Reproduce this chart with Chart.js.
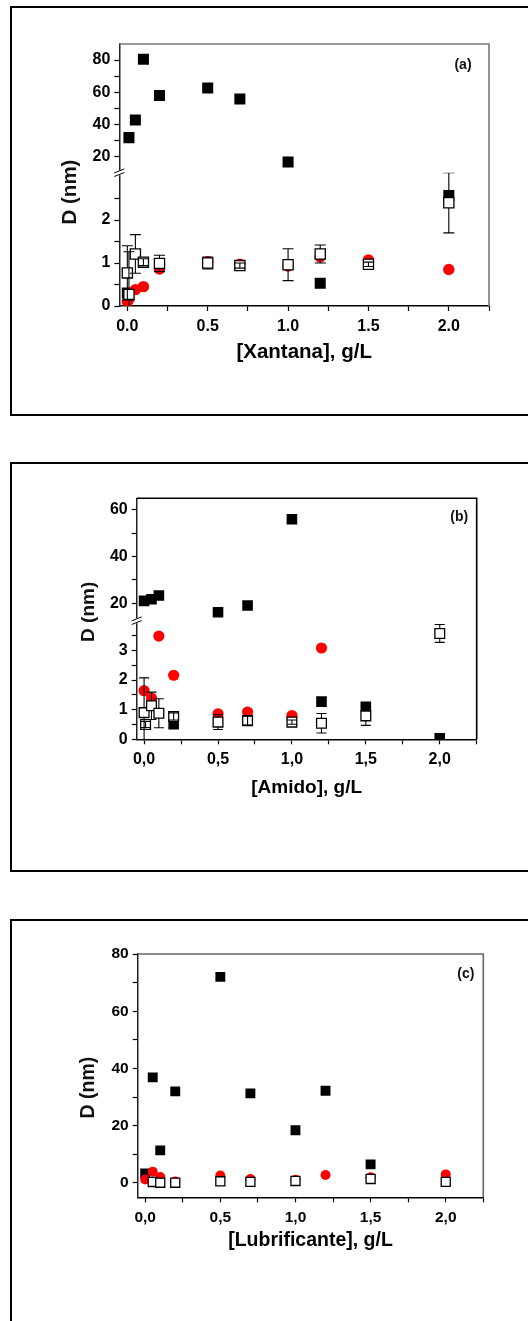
<!DOCTYPE html>
<html>
<head>
<meta charset="utf-8">
<title>D (nm) vs concentração</title>
<script src="https://cdn.jsdelivr.net/npm/chart.js@4.4.0/dist/chart.umd.min.js"></script>
<style>
  html, body { margin: 0; padding: 0; background: #fff; }
  body { width: 528px; height: 1321px; overflow: hidden; position: relative; }
  .frame { position: absolute; left: 10px; width: 560px; border: 2px solid #000; box-sizing: border-box; }
  canvas { position: absolute; left: 0; }
</style>
</head>
<body>
<div class="frame" style="top:6px;height:410px"></div>
<div class="frame" style="top:462px;height:410px"></div>
<div class="frame" style="top:919px;height:440px"></div>
<canvas id="chartA" width="528" height="420" style="top:0"></canvas>
<canvas id="chartB" width="528" height="440" style="top:440px"></canvas>
<canvas id="chartC" width="528" height="431" style="top:890px"></canvas>
<script>
// --- DATA ---
// (a) Xantana
const xA = [0, 0.01, 0.05, 0.1, 0.2, 0.5, 0.7, 1.0, 1.2, 1.5, 2.0];
const blackA = [0.3, 31.8, 42.8, 80.5, 58, 62.7, 55.8, 16.7, 0.53, null, 2.57];
const redA = [0.1, 0.16, 0.38, 0.45, 0.86, 1.03, 0.97, 0.93, 1.14, 1.07, 0.85];
const openA = [0.77, 0.27, 1.21, 1.02, 0.99, 1.0, 0.94, 0.96, 1.21, 0.97, 2.4];
const openErrA = [0.63, 0.99, 0.45, 0.08, 0.19, 0.14, 0.06, 0.37, 0.21, 0.05, 0.7];

// (b) Amido
const xB = [0, 0.01, 0.05, 0.1, 0.2, 0.5, 0.7, 1.0, 1.2, 1.5, 2.0];
const blackB = [21, null, 21.7, 23.3, 0.51, 16.1, 19.0, 56, 1.27, 1.1, 0.03];
const redB = [1.64, null, 1.39, 3.48, 2.16, 0.86, 0.92, 0.8, 3.08, null, null];
const openB = [0.9, 0.5, 1.13, 0.88, 0.77, 0.58, 0.63, 0.58, 0.54, 0.79, 3.57];
const openErrB = [1.17, 0.1, 0.46, 0.49, 0.12, 0.25, 0.15, 0.07, 0.33, 0.32, 0.3];

// (c) Lubrificante
const xC = [0, 0.05, 0.1, 0.2, 0.5, 0.7, 1.0, 1.2, 1.5, 2.0];
const blackC = [3.3, 36.9, 11.4, 32, 72, 31.3, 18.4, 32.2, 6.5, null];
const redC = [1.2, 3.9, 2.1, 0.5, 2.6, 1.4, 1.1, 2.8, 2.0, 3.0];
const openC = [null, 0.35, 0.1, 0.1, 0.6, 0.4, 0.7, null, 1.4, 0.4];
const openErrC = [0, 0, 0, 0, 0, 0, 0, 0, 0, 0];

// tick positions (labels only on the major ones)
const xTicks = [0, 0.25, 0.5, 0.75, 1, 1.25, 1.5, 1.75, 2, 2.25];
const yLowTicksA = [0, 0.5, 1, 1.5, 2, 2.5];
const yHighTicksA = [20, 30, 40, 50, 60, 70, 80];
const yLowTicksB = [0, 0.5, 1, 1.5, 2, 2.5, 3, 3.5];
const yHighTicksB = [20, 30, 40, 50, 60];
const yTicksC = [0, 10, 20, 30, 40, 50, 60, 70, 80];
// --- END DATA ---

const FONT = '"Liberation Sans", Arial, sans-serif';
Chart.defaults.font.family = FONT;
Chart.defaults.color = '#000';

const panels = [
  {
    canvasId: 'chartA', x: xA, black: blackA, red: redA, open: openA, openErr: openErrA,
    breakAt: 5, yLow: [0, 3.1], yLowTicks: yLowTicksA, yLowStep: 1,
    yHigh: [10, 90], yHighTicks: yHighTicksA, yHighStep: 20,
    area: { left: 119.3, top: 44, right: 489, bottom: 306 }, breakY: 172.7,
    decimal: '.', xTitle: '[Xantana], g/L', xTitleSize: 20.5, xTitleOffset: 46, tickSize: 16,
    tag: '(a)', tagPos: [463, 65], yTitlePos: [70.7, 192], yTitleSize: 20.5, frameColor: '#777',
    blackR: 7.8, openR: 7.2, redR: 5.7, capHalf: 5.5
  },
  {
    canvasId: 'chartB', x: xB, black: blackB, red: redB, open: openB, openErr: openErrB,
    breakAt: 5, yLow: [0, 4.0], yLowTicks: yLowTicksB, yLowStep: 1,
    yHigh: [12.5, 65], yHighTicks: yHighTicksB, yHighStep: 20,
    area: { left: 136.7, top: 58.3, right: 476.7, bottom: 299.3 }, breakY: 180.7,
    decimal: ',', xTitle: '[Amido], g/L', xTitleSize: 19, xTitleOffset: 48, tickSize: 16,
    tag: '(b)', tagPos: [459.2, 77], yTitlePos: [88.4, 171.8], yTitleSize: 19, frameColor: '#000',
    blackR: 7.5, openR: 6.9, redR: 5.6, capHalf: 5
  },
  {
    canvasId: 'chartC', x: xC, black: blackC, red: redC, open: openC, openErr: openErrC,
    breakAt: null, y: [-5, 80], yTicks: yTicksC, yStep: 20,
    area: { left: 137.7, top: 64, right: 483.3, bottom: 307.3 },
    decimal: ',', xTitle: '[Lubrificante], g/L', xTitleSize: 19.5, xTitleOffset: 43, tickSize: 15.5,
    tag: '(c)', tagPos: [465.8, 84], yTitlePos: [88.4, 197.6], yTitleSize: 19.5, frameColor: '#666',
    blackR: 7.0, openR: 6.4, redR: 5.0, capHalf: 5
  }
];

// split a series into the part below and above the axis break
function addSeries(datasets, p, ys, errs, style) {
  const low = [], high = [];
  p.x.forEach((x, i) => {
    if (ys[i] === null) return;
    const pt = { x: x, y: ys[i], err: errs ? errs[i] : 0 };
    if (p.breakAt && ys[i] > p.breakAt) high.push(pt); else low.push(pt);
  });
  datasets.push(Object.assign({ data: low, yAxisID: p.breakAt ? 'yLow' : 'y', clip: 0 }, style));
  if (p.breakAt) datasets.push(Object.assign({ data: high, yAxisID: 'yHigh', clip: 0 }, style));
}

function isMultiple(v, step) {
  return Math.abs(v / step - Math.round(v / step)) < 1e-6;
}

function yAxis(p, range, ticks, step, weight, width) {
  const axis = {
    type: 'linear', position: 'left', min: range[0], max: range[1],
    afterBuildTicks: s => { s.ticks = ticks.map(v => ({ value: v })); },
    afterFit: s => { s.width = width; },
    ticks: {
      autoSkip: false, padding: 4, color: '#000',
      font: { family: FONT, size: p.tickSize, weight: 'bold' },
      callback: v => isMultiple(v, step) ? String(v) : ''
    },
    grid: { drawOnChartArea: false, tickLength: 5, tickColor: '#000', tickWidth: 1.2 },
    border: { color: '#222', width: 1.5 }
  };
  if (weight) { axis.stack = 'dnm'; axis.stackWeight = weight; }
  return axis;
}

// error bars for the open squares
const errorBarPlugin = {
  id: 'errorBars',
  afterDatasetsDraw(chart, args, opts) {
    const ctx = chart.ctx;
    const area = chart.chartArea;
    chart.data.datasets.forEach((ds, di) => {
      if (!ds.withErrors) return;
      const meta = chart.getDatasetMeta(di);
      const yScale = chart.scales[meta.yAxisID];
      const half = ds.pointRadius * Math.SQRT1_2;
      ctx.save();
      ctx.beginPath();
      ctx.rect(area.left, yScale.top, area.right - area.left, yScale.bottom - yScale.top);
      ctx.clip();
      ctx.strokeStyle = '#000';
      ctx.lineWidth = 1.1;
      meta.data.forEach((pt, i) => {
        const raw = ds.data[i];
        if (!raw.err) return;
        const yUp = yScale.getPixelForValue(raw.y + raw.err);
        const yDn = yScale.getPixelForValue(raw.y - raw.err);
        ctx.beginPath();
        if (pt.y - yUp > half) {
          ctx.moveTo(pt.x, pt.y - half); ctx.lineTo(pt.x, yUp);
          ctx.moveTo(pt.x, pt.y + half); ctx.lineTo(pt.x, yDn);
        } else {
          ctx.moveTo(pt.x, yUp); ctx.lineTo(pt.x, yDn);
        }
        ctx.moveTo(pt.x - opts.capHalf, yUp); ctx.lineTo(pt.x + opts.capHalf, yUp);
        ctx.moveTo(pt.x - opts.capHalf, yDn); ctx.lineTo(pt.x + opts.capHalf, yDn);
        ctx.stroke();
      });
      ctx.restore();
    });
  }
};

// frame, axis break, panel tag and y title
const decorPlugin = {
  id: 'decor',
  afterDraw(chart, args, opts) {
    const ctx = chart.ctx;
    const a = chart.chartArea;
    ctx.save();
    ctx.strokeStyle = opts.frameColor;
    ctx.lineWidth = 1.6;
    ctx.beginPath();
    ctx.moveTo(a.left, a.top); ctx.lineTo(a.right, a.top); ctx.lineTo(a.right, a.bottom);
    ctx.stroke();

    if (chart.scales.yLow && chart.scales.yHigh) {
      const y = chart.scales.yLow.top;
      const x = a.left;
      ctx.fillStyle = '#fff';
      ctx.fillRect(x - 2, y - 2.5, 4, 5);
      ctx.strokeStyle = '#000';
      ctx.lineWidth = 1;
      [-1.8, 1.8].forEach(d => {
        ctx.beginPath();
        ctx.moveTo(x - 5, y + d + 2); ctx.lineTo(x + 5, y + d - 2);
        ctx.stroke();
      });
    }

    ctx.fillStyle = '#111';
    ctx.textAlign = 'center';
    ctx.textBaseline = 'middle';
    ctx.font = 'bold 14px ' + FONT;
    ctx.fillText(opts.tag, opts.tagPos[0], opts.tagPos[1]);

    ctx.translate(opts.yTitlePos[0], opts.yTitlePos[1]);
    ctx.rotate(-Math.PI / 2);
    ctx.font = 'bold ' + opts.yTitleSize + 'px ' + FONT;
    ctx.fillText('D (nm)', 0, 0);
    ctx.restore();
  }
};

function makeChart(p) {
  const canvas = document.getElementById(p.canvasId);
  const W = canvas.width, H = canvas.height;
  const xHeight = p.xTitleOffset + p.xTitleSize * 0.6;
  const padLeft = 40;
  const yWidth = p.area.left - padLeft;

  const datasets = [];
  // first dataset is drawn on top: open squares, red circles, black squares
  addSeries(datasets, p, p.open, p.openErr, {
    pointStyle: 'rect', pointRadius: p.openR, backgroundColor: '#fff',
    borderColor: '#000', borderWidth: 1.3, withErrors: true
  });
  addSeries(datasets, p, p.red, null, {
    pointStyle: 'circle', pointRadius: p.redR, backgroundColor: '#ff0000',
    borderColor: '#ff0000', borderWidth: 0
  });
  addSeries(datasets, p, p.black, null, {
    pointStyle: 'rect', pointRadius: p.blackR, backgroundColor: '#000',
    borderColor: '#000', borderWidth: 0
  });

  const scales = {
    x: {
      type: 'linear', position: 'bottom', min: -0.05, max: 2.25,
      afterBuildTicks: s => { s.ticks = xTicks.map(v => ({ value: v })); },
      afterFit: s => { s.height = xHeight; },
      ticks: {
        autoSkip: false, maxRotation: 0, padding: 6, color: '#000',
        font: { family: FONT, size: p.tickSize, weight: 'bold' },
        callback: v => (isMultiple(v, 0.5) && v <= 2) ? v.toFixed(1).replace('.', p.decimal) : ''
      },
      grid: { drawOnChartArea: false, tickLength: 5, tickColor: '#000', tickWidth: 1.2 },
      border: { color: '#000', width: 1.5 },
      title: {
        display: true, text: p.xTitle, color: '#000', padding: 0,
        font: { family: FONT, size: p.xTitleSize, weight: 'bold' }
      }
    }
  };
  if (p.breakAt) {
    scales.yLow = yAxis(p, p.yLow, p.yLowTicks, p.yLowStep, p.area.bottom - p.breakY, yWidth);
    scales.yHigh = yAxis(p, p.yHigh, p.yHighTicks, p.yHighStep, p.breakY - p.area.top, yWidth);
  } else {
    scales.y = yAxis(p, p.y, p.yTicks, p.yStep, null, yWidth);
  }

  return new Chart(canvas.getContext('2d'), {
    type: 'scatter',
    data: { datasets: datasets },
    options: {
      responsive: false,
      animation: false,
      events: [],
      layout: {
        padding: {
          left: padLeft, top: p.area.top,
          right: W - p.area.right, bottom: H - p.area.bottom - xHeight
        }
      },
      scales: scales,
      plugins: {
        legend: { display: false },
        tooltip: { enabled: false },
        errorBars: { capHalf: p.capHalf },
        decor: {
          frameColor: p.frameColor, tag: p.tag, tagPos: p.tagPos,
          yTitlePos: p.yTitlePos, yTitleSize: p.yTitleSize
        }
      }
    },
    plugins: [errorBarPlugin, decorPlugin]
  });
}

panels.forEach(makeChart);
</script>
</body>
</html>
